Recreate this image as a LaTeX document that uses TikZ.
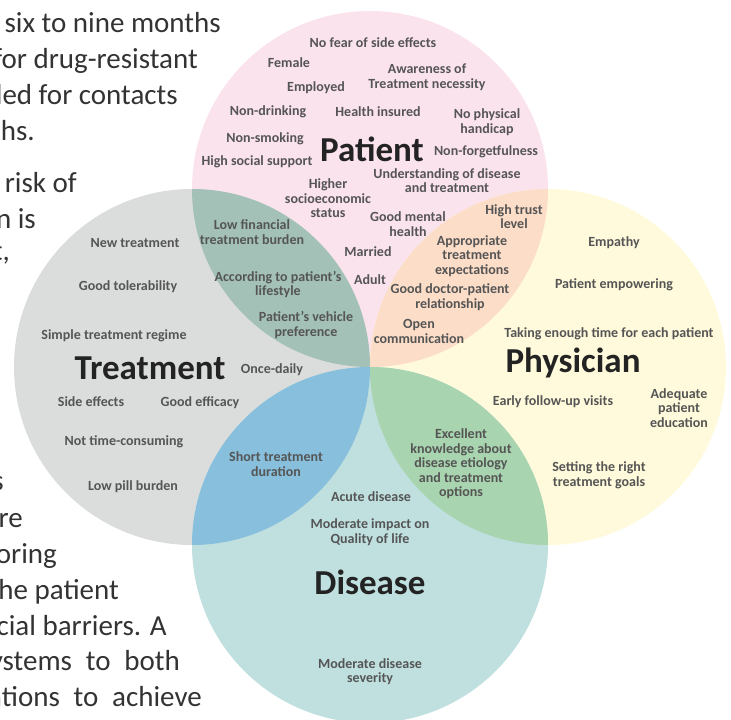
\documentclass[tikz,border=0pt]{standalone}
\usepackage{fontspec}
\setmainfont{Carlito}
\definecolor{cpat}{HTML}{FBE3EE}
\definecolor{ctre}{HTML}{DBDCDC}
\definecolor{cphy}{HTML}{FFFADB}
\definecolor{cdis}{HTML}{BFE0DF}
\definecolor{cpt}{HTML}{A3C1B6}
\definecolor{cpp}{HTML}{FCDDC8}
\definecolor{ctd}{HTML}{87BFDC}
\definecolor{cpd}{HTML}{A8D4AF}
\definecolor{lab}{HTML}{555555}
\definecolor{big}{HTML}{232323}
\definecolor{bgtext}{HTML}{333333}
\begin{document}
\begin{tikzpicture}[x=1pt,y=-1pt,
  lbl/.style={font=\fontsize{14}{14.5}\selectfont\bfseries, text=lab, align=center, inner sep=0pt},
  biglbl/.style={font=\fontsize{35}{40}\selectfont\bfseries, text=big, inner sep=0pt},
  bg/.style={font=\fontsize{29}{36}\selectfont, text=bgtext, inner sep=0pt, anchor=base east}]
\useasboundingbox (0,0) rectangle (731,720);
\begin{scope}
\clip (0,0) rectangle (731,720);
% background paper text
\node[bg] (b1) at (221,32) {six to nine months};
\node[bg] (b2) at (198,68) {for drug-resistant};
\node[bg] (b3) at (178,104) {led for contacts};
\node[bg] (b4) at (35,140) {ths.};
\node[bg] (b5) at (77,192) {e risk of};
\node[bg] (b6) at (36,228) {n is};
\node[bg] (b7) at (10,260) {t,};
\node[bg] (b8) at (4,490) {s};
\node[bg] (b9) at (23,527) {re};
\node[bg] (b10) at (57,563) {oring};
\node[bg] (b11) at (119,599) {he patient};
\node[bg] (b12) at (167,635) {cial barriers.\hspace{0.3em}A};
\node[bg] (b13) at (180,670) {ystems\hspace{0.25em} to\hspace{0.25em} both};
\node[bg] (b14) at (202,706) {ations\hspace{0.25em} to\hspace{0.25em} achieve};
% circles
\coordinate (P) at (370,189);
\coordinate (T) at (192,367);
\coordinate (H) at (548,367);
\coordinate (D) at (370,545);
\fill[cpat] (P) circle (178);
\fill[ctre] (T) circle (178);
\fill[cphy] (H) circle (178);
\fill[cdis] (D) circle (178);
\begin{scope}\clip (P) circle (178); \fill[cpt] (T) circle (178); \fill[cpp] (H) circle (178);\end{scope}
\begin{scope}\clip (D) circle (178); \fill[ctd] (T) circle (178); \fill[cpd] (H) circle (178);\end{scope}
\end{scope}
% Patient
\node[biglbl] (patient) at (372,149) {Patient};
\node[lbl] (p1) at (373,43) {No fear of side effects};
\node[lbl] (p2) at (289,63) {Female};
\node[lbl] (p3) at (427,77) {Awareness of\\Treatment necessity};
\node[lbl] (p4) at (316,88) {Employed};
\node[lbl] (p5) at (268,112) {Non-drinking};
\node[lbl] (p6) at (378,112) {Health insured};
\node[lbl] (p7) at (487,122) {No physical\\handicap};
\node[lbl] (p8) at (265,139) {Non-smoking};
\node[lbl] (p9) at (486,152) {Non-forgetfulness};
\node[lbl] (p10) at (257,162) {High social support};
\node[lbl] (p11) at (447,180.5) {Understanding of disease\\and treatment};
\node[lbl] (p12) at (328,198.5) {Higher\\socioeconomic\\status};
\node[lbl] (p13) at (408,224) {Good mental\\health};
\node[lbl] (p14) at (368,252) {Married};
\node[lbl] (p15) at (370,280) {Adult};
% Patient-Physician
\node[lbl] (pp1) at (514,216.5) {High trust\\level};
\node[lbl] (pp2) at (472,256) {Appropriate\\treatment\\expectations};
\node[lbl] (pp3) at (450,297) {Good doctor-patient\\relationship};
\node[lbl] (pp4) at (419,331.5) {Open\\communication};
% Patient-Treatment
\node[lbl] (pt1) at (252,232) {Low financial\\treatment burden};
\node[lbl] (pt2) at (278,284.5) {According to patient’s\\lifestyle};
\node[lbl] (pt3) at (306,325) {Patient’s vehicle\\preference};
% Treatment
\node[biglbl] (treatment) at (150,368) {Treatment};
\node[lbl] (t1) at (135,243) {New treatment};
\node[lbl] (t2) at (128,287) {Good tolerability};
\node[lbl] (t3) at (114,336) {Simple treatment regime};
\node[lbl] (t4) at (272,370) {Once-daily};
\node[lbl] (t5) at (91,402) {Side effects};
\node[lbl] (t6) at (200,403) {Good efficacy};
\node[lbl] (t7) at (124,442) {Not time-consuming};
\node[lbl] (t8) at (133,487) {Low pill burden};
\node[lbl] (td1) at (276,464) {Short treatment\\duration};
% Physician
\node[biglbl] (physician) at (573,363) {Physician};
\node[lbl] (h1) at (614,243) {Empathy};
\node[lbl] (h2) at (614,285) {Patient empowering};
\node[lbl] (h3) at (609,334) {Taking enough time for each patient};
\node[lbl] (h4) at (553,402) {Early follow-up visits};
\node[lbl] (h5) at (679,408) {Adequate\\patient\\education};
\node[lbl] (h6) at (599,475.5) {Setting the right\\treatment goals};
\node[lbl] (hd1) at (461,464) {Excellent\\knowledge about\\disease etiology\\and treatment\\options};
% Disease
\node[biglbl] (disease) at (370,582) {Disease};
\node[lbl] (d1) at (371,497) {Acute disease};
\node[lbl] (d2) at (370,532) {Moderate impact on\\Quality of life};
\node[lbl] (d3) at (370,671.5) {Moderate disease\\severity};
\end{tikzpicture}
\end{document}
